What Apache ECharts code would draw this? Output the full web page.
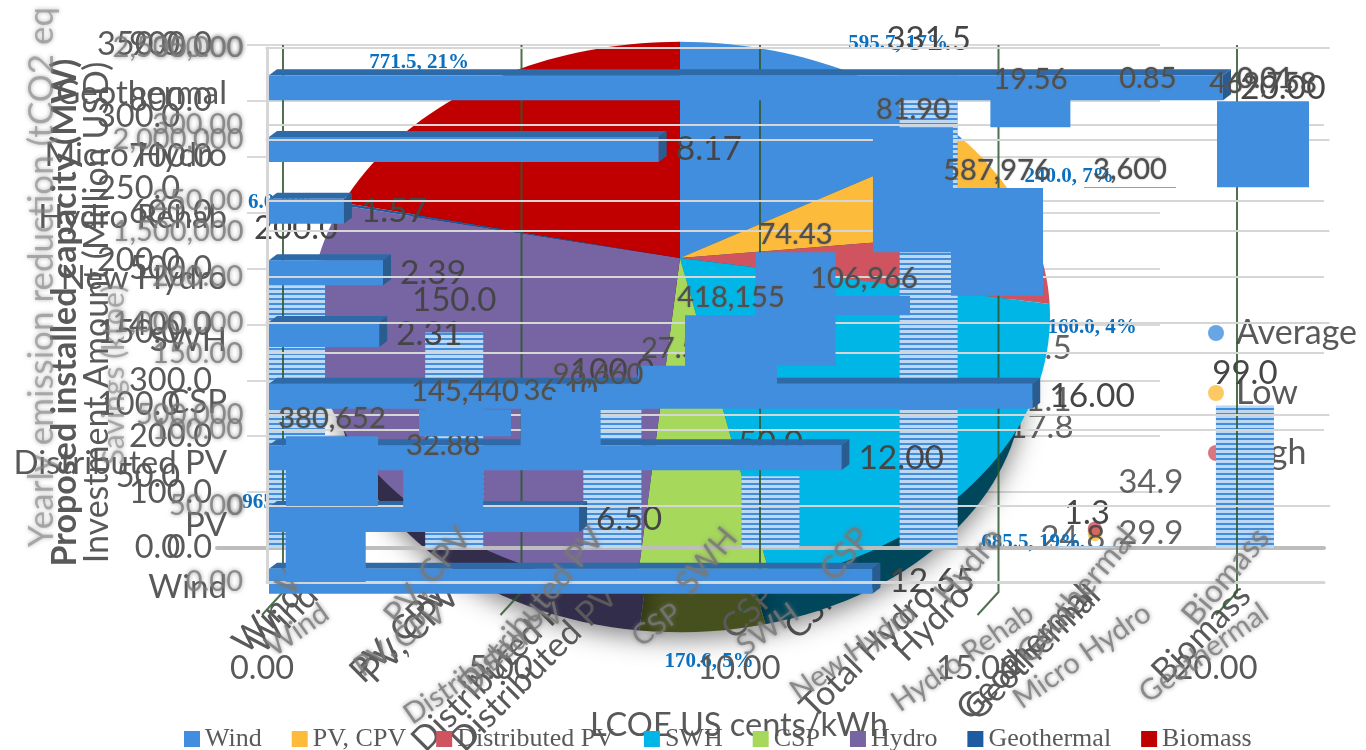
<!DOCTYPE html>
<html>
<head>
<meta charset="utf-8">
<title>Renewable energy plan overview</title>
<script src="https://cdn.jsdelivr.net/npm/echarts@6/dist/echarts.min.js"></script>
<style>html,body{margin:0;padding:0;background:#fff}#c{width:1366px;height:750px}</style>
</head>
<body>
<div id="c"></div>
<script>
// Installed capacity by technology (MW)
const capacityCats = ['Wind', 'PV, CPV', 'Distributed PV', 'CSP', 'Total Hydro', 'Geothermal', 'Biomass'];
const capacityVals = [200.0, 150.0, 100.0, 50.0, 331.5, 1.3, 99.0];

// Low / average / high investment amounts
const rangeCats = ['Wind', 'PV, CPV', 'Distributed PV', '', 'CSP', 'Hydro', 'Geothermal'];
const rangeAvg  = ['-', '-', '-', '-', 11.5, '-', 29.9];
const rangeLow  = ['-', '-', '-', '-', 11.1, '-', 24.8];
const rangeHigh = ['-', '-', '-', '-', 17.8, '-', 34.9];

// Share of the programme by technology
const pieNames  = ['Wind', 'PV, CPV', 'Distributed PV', 'SWH', 'CSP', 'Hydro', 'Geothermal', 'Biomass'];
const pieValues = [595.7, 240.0, 160.0, 685.5, 170.6, 965.0, 6.0, 771.5];

// Levelised cost of energy (US cents/kWh)
const lcoeCats = ['Wind', 'PV', 'Distributed PV', 'CSP', 'SWH', 'New Hydro', 'Hydro Rehab', 'Micro Hydro', 'Geothermal'];
const lcoeVals = [12.65, 6.50, 12.00, 16.00, 2.31, 2.39, 1.57, 8.17, 20.00];
const lcoeTicks = [0, 5, 10, 15, 20];

// Cumulative yearly emission reduction (tCO2 eq)
const emissionCats = ['Wind', 'PV, CPV', 'Distributed PV', 'SWH', 'CSP', 'Hydro', 'Geothermal', 'Biomass'];
const emissionVals = [380652, 145440, 96660, 418155, 106966, 587976, 3600, 469758];

// Cumulative savings
const savingCats = ['Wind', 'PV, CPV', 'Distributed PV', 'CSP', 'SWH', 'New Hydro', 'Hydro Rehab', 'Micro Hydro', 'Geothermal'];
const savingVals = [45.30, 32.88, 36.10, 27.50, 74.43, 81.90, 19.56, 0.85, 0.01];

// Colours and layout
const BLUE = '#418EDE', GREY = '#595959', DARK = '#454545', SOFT = 'rgba(120,120,120,0.8)', LINE = '#D6D6D6';
const pieColors = ['#418EDE', '#FDBB3C', '#CF5460', '#00B6E6', '#A6D85C', '#7764A3', '#1D5CA0', '#C00000'];
const pieDark   = ['#24507e', '#8d6a22', '#752f36', '#01475C', '#46501E', '#332D4C', '#10345a', '#6c0000'];
const pieLabelAt = [[898, 44], [1069, 177], [1092, 328], [1031, 543], [709, 662], [292, 503], [282, 203], [419, 63]];
const SANS = 'Lato';

const pieTotal = pieValues.reduce((a, b) => a + b, 0);
const pieSpans = [];
pieValues.reduce((acc, v) => { pieSpans.push([acc / pieTotal, (acc + v) / pieTotal]); return acc + v; }, 0);

// The disc is seen in perspective: the far edge is foreshortened around the hub.
function discPoint(share) {
  const a = share * 2 * Math.PI, X = Math.sin(a), Y = Math.cos(a), d = 1 + 0.212 * Y;
  return [680 + 361.6 * X / d, 258 - 262 * Y / d];
}
function slicePoints(span, scale, drop) {
  const pts = [[680, 258 + drop]];
  const steps = Math.max(2, Math.ceil((span[1] - span[0]) * 180));
  for (let i = 0; i <= steps; i++) {
    const p = discPoint(span[0] + (span[1] - span[0]) * i / steps);
    pts.push([680 + (p[0] - 680) * scale, 258 + (p[1] - 258) * scale + drop]);
  }
  return pts;
}
const pieSeries = pieNames.map((name, i) => ({
  type: 'custom', name, coordinateSystem: 'none', z: 1.6, silent: true,
  itemStyle: { color: pieColors[i] },
  data: [pieSpans[i]],
  renderItem: () => ({ type: 'polygon', shape: { points: slicePoints(pieSpans[i], 1, 0) }, style: { fill: pieColors[i] } })
}));
const pieSide = {
  type: 'custom', coordinateSystem: 'none', z: 1.2, silent: true,
  data: pieSpans,
  renderItem: (params) => ({
    type: 'polygon', shape: { points: slicePoints(pieSpans[params.dataIndex], 0.93, 65) },
    style: { fill: pieDark[params.dataIndex], shadowBlur: 26, shadowColor: 'rgba(0,0,0,0.5)', shadowOffsetY: 6 }
  })
};
const pieLabels = {
  type: 'custom', coordinateSystem: 'none', z: 1.8, silent: true,
  data: pieValues,
  renderItem: (params) => {
    const i = params.dataIndex;
    return { type: 'text', style: {
      text: pieValues[i].toFixed(1) + ', ' + Math.round(pieValues[i] / pieTotal * 100) + '%',
      x: pieLabelAt[i][0], y: pieLabelAt[i][1], align: 'center', verticalAlign: 'middle',
      font: 'bold 21px "Liberation Serif"', fill: '#0A70BF' } };
  }
};

// Horizontal 3-D style bars for the LCOE panel
const lcoeBars = {
  type: 'custom', xAxisIndex: 4, yAxisIndex: 4, z: 5, clip: false, silent: true,
  encode: { x: 0, y: 1 },
  data: lcoeVals.map((v, i) => [v, i]),
  renderItem: (params, api) => {
    const y = api.coord([0, api.value(1)])[1];
    const x0 = api.coord([0, 0])[0] + 7, x1 = api.coord([api.value(0), 0])[0] + 7;
    const h = 12.5, dx = 8, dy = 6;
    return { type: 'group', children: [
      { type: 'polygon', shape: { points: [[x0, y - h], [x0 + dx, y - h - dy], [x1 + dx, y - h - dy], [x1, y - h]] }, style: { fill: '#2E6AA8' } },
      { type: 'polygon', shape: { points: [[x1, y - h], [x1 + dx, y - h - dy], [x1 + dx, y + h - dy], [x1, y + h]] }, style: { fill: '#2A5C90' } },
      { type: 'rect', shape: { x: x0, y: y - h, width: x1 - x0, height: 2 * h }, style: { fill: BLUE } },
      { type: 'text', style: { text: api.value(0).toFixed(2), x: x1 + dx + 9, y, verticalAlign: 'middle', font: '33.5px ' + SANS, fill: DARK } }
    ] };
  }
};
// Back-wall rules of the LCOE panel, stepping out onto the floor
const lcoeRules = {
  type: 'custom', xAxisIndex: 4, yAxisIndex: 4, z: 4, clip: false, silent: true,
  encode: { x: 0, y: 1 },
  data: lcoeTicks.map(t => [t, 0]),
  renderItem: (params, api) => {
    const x = api.coord([api.value(0), 0])[0], c = params.coordSys;
    return { type: 'polyline', shape: { points: [[x + 21, c.y - 12], [x + 21, c.y + c.height - 20], [x, c.y + c.height + 3]] },
      style: { stroke: 'rgba(48,88,48,0.85)', lineWidth: 2, fill: 'none' } };
  }
};

// Floating bars: each one starts where the previous one ended
function floatingSeries(vals, idx, width, z, fmt) {
  const base = [];
  vals.reduce((acc, v) => { base.push(acc); return acc + v; }, 0);
  return [
    { type: 'bar', xAxisIndex: idx, yAxisIndex: idx, stack: 'f' + idx, z, barWidth: width, silent: true,
      itemStyle: { color: 'transparent' }, data: base },
    { type: 'bar', xAxisIndex: idx, yAxisIndex: idx, stack: 'f' + idx, z, barWidth: width, silent: true,
      itemStyle: { color: BLUE }, data: vals,
      label: { show: true, position: 'top', distance: 3, formatter: p => fmt(p.value),
        fontFamily: SANS, fontSize: 29, color: '#4f4f4f', textShadowColor: '#6a6a6a', textShadowBlur: 1.5 } }
  ];
}

function rangeSeries(name, vals, color, offsets) {
  return {
    type: 'scatter', name, xAxisIndex: 0, yAxisIndex: 0, z: 0.6, symbolSize: 14, silent: true,
    itemStyle: { color },
    data: vals.map((v, i) => v === '-' ? '-' : { value: v, label: { show: true, position: 'inside', offset: offsets[i],
      formatter: v.toFixed(1), fontFamily: SANS, fontSize: 33, color: '#3c3c3c', textBorderColor: 'transparent', textBorderWidth: 0 } })
  };
}

const softLabel = { fontFamily: SANS, fontSize: 29, color: SOFT, textShadowColor: 'rgba(120,120,120,0.9)', textShadowBlur: 4 };
const softCat = Object.assign({}, softLabel, { rotate: 35, interval: 0, margin: 28 });
const softCatSteep = Object.assign({}, softLabel, { rotate: 50, interval: 0, margin: 26, fontSize: 32 });
const sharpVal = { fontFamily: SANS, fontSize: 32.5, color: GREY };
const sharpCat = { fontFamily: SANS, fontSize: 34, color: GREY, rotate: 45, interval: 0, margin: 42 };

const option = {
  animation: false,
  backgroundColor: '#fff',
  legend: [
    { data: pieNames, left: 179, top: 721, itemWidth: 16, itemHeight: 16, itemGap: 30, z: 9, icon: 'rect',
      selectedMode: false, textStyle: { fontFamily: 'Liberation Serif', fontSize: 26, color: GREY } },
    { data: ['Average', 'Low', 'High'], left: 1203, top: 311, orient: 'vertical', itemWidth: 16, itemHeight: 16, itemGap: 26,
      icon: 'circle', z: 0.5, selectedMode: false, textStyle: { fontFamily: SANS, fontSize: 34, color: GREY, padding: [0, 0, 0, 7] } }
  ],
  grid: [
    { left: 247, width: 913, top: 45, height: 503, outerBoundsMode: 'none' },
    { left: 217, width: 1107, top: 45, height: 503, outerBoundsMode: 'none' },
    { left: 265.5, width: 1064, top: 48, height: 458, outerBoundsMode: 'none' },
    { left: 267, width: 1057, top: 48, height: 534, outerBoundsMode: 'none' },
    { left: 262, width: 954, top: 57, height: 555, outerBoundsMode: 'none' },
    // Category captions of the LCOE panel sit slightly below their bars
    { left: 262, width: 954, top: 63, height: 555, outerBoundsMode: 'none' }
  ],
  xAxis: [
    { type: 'category', gridIndex: 0, data: rangeCats, z: 0, axisTick: { show: false }, axisLine: { show: false }, axisLabel: sharpCat },
    { type: 'category', gridIndex: 1, data: capacityCats, z: 3, axisTick: { show: false },
      axisLine: { lineStyle: { color: '#BDBDBD', width: 4 } }, axisLabel: sharpCat },
    { type: 'category', gridIndex: 2, data: emissionCats, z: 6, axisTick: { show: false },
      axisLine: { lineStyle: { color: LINE, width: 2 } }, axisLabel: softCatSteep },
    { type: 'category', gridIndex: 3, data: savingCats, z: 6, axisTick: { show: false },
      axisLine: { lineStyle: { color: LINE, width: 3 } }, axisLabel: softCat },
    { type: 'value', gridIndex: 4, min: 0, max: 20, interval: 5, z: 5, splitLine: { show: false }, axisLine: { show: false }, axisTick: { show: false },
      axisLabel: { fontFamily: SANS, fontSize: 32.5, color: GREY, margin: 40, formatter: v => v.toFixed(2) },
      name: 'LCOE US cents/kWh', nameLocation: 'middle', nameGap: 97, nameTextStyle: { fontFamily: SANS, fontSize: 32.5, color: GREY } },
    { type: 'value', gridIndex: 5, min: 0, max: 20, show: false }
  ],
  yAxis: [
    { type: 'value', gridIndex: 0, min: 0, max: 900, interval: 100, z: 0,
      axisLabel: Object.assign({}, sharpVal, { margin: 35, formatter: v => v.toFixed(1) }),
      splitLine: { lineStyle: { color: '#D9D9D9', width: 2 } }, axisLine: { show: false }, axisTick: { show: false },
      name: 'Investment Amount (Million USD)', nameLocation: 'middle', nameGap: 133,
      nameTextStyle: { fontFamily: SANS, fontSize: 34, color: GREY, padding: [0, 32, 0, 0] } },
    { type: 'value', gridIndex: 1, min: 0, max: 350, interval: 50, z: 3,
      axisLabel: Object.assign({}, sharpVal, { margin: 37, formatter: v => v.toFixed(1) }),
      splitLine: { show: false }, axisLine: { show: false }, axisTick: { show: false },
      name: 'Proposed installed capacity (MW)', nameLocation: 'middle', nameGap: 135,
      nameTextStyle: { fontFamily: SANS, fontSize: 34, fontWeight: 'bold', color: GREY, padding: [0, 32, 0, 0] } },
    { type: 'value', gridIndex: 2, min: 0, max: 2500000, interval: 500000, z: 6,
      axisLabel: Object.assign({}, softLabel, { margin: 22, formatter: v => v.toLocaleString('en-US') }),
      splitLine: { lineStyle: { color: LINE, width: 2 } }, axisLine: { show: false }, axisTick: { show: false },
      name: 'Yearly emission reduction (tCO2 eq', nameLocation: 'middle', nameGap: 206,
      nameTextStyle: Object.assign({}, softLabel, { fontSize: 35, color: 'rgba(130,130,130,0.6)' }) },
    { type: 'value', gridIndex: 3, min: 0, max: 350, interval: 50, z: 6,
      axisLabel: Object.assign({}, softLabel, { margin: 24, formatter: v => v.toFixed(2) }),
      splitLine: { lineStyle: { color: LINE, width: 2 } }, axisLine: { show: true, lineStyle: { color: LINE, width: 3 } }, axisTick: { show: false },
      name: 'Savings (ktoe)', nameLocation: 'middle', nameGap: 138,
      nameTextStyle: Object.assign({}, softLabel, { fontSize: 30, color: 'rgba(130,130,130,0.6)', padding: [0, 120, 0, 0] }) },
    { type: 'category', gridIndex: 4, data: lcoeCats, z: 5, splitLine: { show: false }, axisLine: { show: false }, axisTick: { show: false }, axisLabel: { show: false } },
    { type: 'category', gridIndex: 5, data: lcoeCats, z: 5, splitLine: { show: false }, axisLine: { show: false }, axisTick: { show: false },
      axisLabel: { fontFamily: SANS, fontSize: 33, color: GREY, margin: 35, interval: 0 } }
  ],
  series: [
    rangeSeries('Average', rangeAvg, BLUE, { 4: [205, -193], 6: [56, 2] }),
    rangeSeries('Low', rangeLow, '#FDBB3C', { 4: [205, -141], 6: [-22, 4] }),
    rangeSeries('High', rangeHigh, '#CF5460', { 4: [207, -111], 6: [56, -46] }),
    pieSide,
    ...pieSeries,
    pieLabels,
    lcoeRules,
    {
      type: 'bar', xAxisIndex: 1, yAxisIndex: 1, z: 3, barWidth: 58, silent: true, data: capacityVals,
      itemStyle: { color: BLUE, decal: { symbol: 'rect', dashArrayX: [1, 0], dashArrayY: [3, 2], color: 'rgba(255,255,255,0.65)', rotation: 0, symbolSize: 1 } },
      label: { show: true, position: 'top', distance: 16, fontFamily: SANS, fontSize: 33, color: DARK, formatter: p => p.value.toFixed(1) }
    },
    lcoeBars,
    ...floatingSeries(savingVals, 3, 80, 7, v => v.toFixed(2)),
    ...floatingSeries(emissionVals, 2, 92, 8, v => v.toLocaleString('en-US'))
  ]
};
echarts.init(document.getElementById('c')).setOption(option);
</script>
</body>
</html>
